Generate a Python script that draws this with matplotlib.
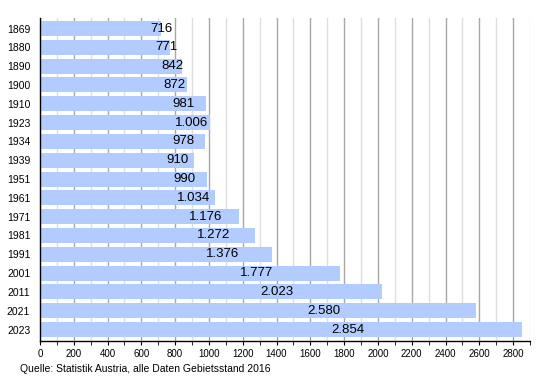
import matplotlib
matplotlib.use('Agg')
import matplotlib.pyplot as plt
from matplotlib.ticker import MultipleLocator

plt.rcParams['font.family'] = ['Liberation Sans', 'DejaVu Sans']

years = ['1869', '1880', '1890', '1900', '1910', '1923', '1934', '1939', '1951',
         '1961', '1971', '1981', '1991', '2001', '2011', '2021', '2023']
population = [716, 771, 842, 872, 981, 1006, 978, 910, 990,
              1034, 1176, 1272, 1376, 1777, 2023, 2580, 2854]
source = 'Quelle: Statistik Austria, alle Daten Gebietsstand 2016'

fig = plt.figure(figsize=(5.5, 3.8), dpi=100)
ax = fig.add_axes([40/550, 1-341/380, 490/550, 323/380])

pos = list(range(len(years)))
ax.barh(pos, population, height=0.8, color='#b3ccff', zorder=2)
ax.set_ylim(len(years) - 1 + 0.61, -0.56)
ax.set_xlim(0, 2900)

ax.set_yticks(pos)
ax.set_yticklabels(years, fontsize=7.5)
ax.xaxis.set_major_locator(MultipleLocator(200))
ax.xaxis.set_minor_locator(MultipleLocator(100))
ax.grid(axis='x', which='major', color='#a8a8a8', lw=1, zorder=0)
ax.grid(axis='x', which='minor', color='#dedede', lw=1, zorder=0)
ax.set_axisbelow(True)

for s in ['top', 'right']:
    ax.spines[s].set_visible(False)
for s in ['left', 'bottom']:
    ax.spines[s].set_color('black')
    ax.spines[s].set_linewidth(1)
    ax.spines[s].set_zorder(3)

ax.tick_params(axis='y', length=0, pad=7)
ax.tick_params(axis='x', which='both', length=3, direction='out', labelsize=7, pad=3)

for i, v in enumerate(population):
    lab = f'{v:,}'.replace(',', '.')
    ax.text(v / 2 + 295, i, lab, ha='left', va='center', fontsize=9.5, zorder=4)

fig.text(20/550, 1-369/380, source, fontsize=7.5, va='center', ha='left')

fig.savefig('out.png', dpi=100)
